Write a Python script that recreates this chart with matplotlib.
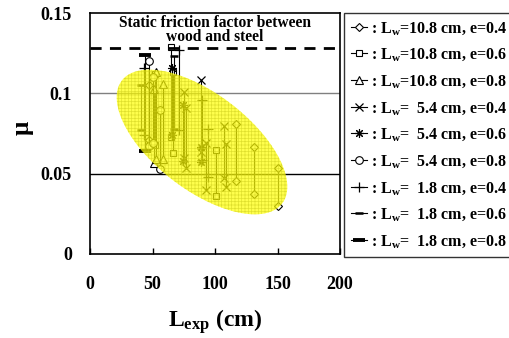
import numpy as np
import matplotlib
matplotlib.use("Agg")
import matplotlib.pyplot as plt
from matplotlib.patches import Polygon
from matplotlib.lines import Line2D

plt.rcParams['font.family'] = ['Liberation Serif', 'DejaVu Serif']
plt.rcParams['font.weight'] = 'bold'
plt.rcParams['mathtext.fontset'] = 'custom'
plt.rcParams['mathtext.rm'] = 'Liberation Serif:bold'
plt.rcParams['mathtext.it'] = 'Liberation Serif:bold'
plt.rcParams['mathtext.bf'] = 'Liberation Serif:bold'
plt.rcParams['hatch.linewidth'] = 0.5

# ---------------- data ----------------
series_labels = [
    r': L$_{\rm w}$=10.8 cm, e=0.4',
    r': L$_{\rm w}$=10.8 cm, e=0.6',
    r': L$_{\rm w}$=10.8 cm, e=0.8',
    r': L$_{\rm w}$=  5.4 cm, e=0.4',
    r': L$_{\rm w}$=  5.4 cm, e=0.6',
    r': L$_{\rm w}$=  5.4 cm, e=0.8',
    r': L$_{\rm w}$=  1.8 cm, e=0.4',
    r': L$_{\rm w}$=  1.8 cm, e=0.6',
    r': L$_{\rm w}$=  1.8 cm, e=0.8',
]

# L_exp positions and mu ranges (max, min) per series
lw108_e04_x = [47, 116.5, 131, 150]
lw108_e04_hi = [0.105, 0.081, 0.0666, 0.0533]
lw108_e04_lo = [0.071, 0.0454, 0.0371, 0.0299]

lw108_e06_x = [52, 65, 66.5, 101]
lw108_e06_hi = [0.112, 0.129, 0.113, 0.0647]
lw108_e06_lo = [0.068, 0.0726, 0.063, 0.036]

lw108_e08_x = [51, 53, 58.5]
lw108_e08_hi = [0.103, 0.113, 0.106]
lw108_e08_lo = [0.0566, 0.059, 0.059]

lw54_e04_x = [75, 77, 88.6, 93, 107.5, 109]
lw54_e04_hi = [0.1007, 0.0908, 0.108, 0.069, 0.0797, 0.0685]
lw54_e04_lo = [0.0597, 0.0535, 0.0637, 0.040, 0.0473, 0.0414]

lw54_e06_x = [65.5, 74, 89]
lw54_e06_hi = [0.1156, 0.093, 0.0665]
lw54_e06_lo = [0.074, 0.058, 0.057]

lw54_e08_x = [47.5, 50, 56]
lw54_e08_hi = [0.120, 0.110, 0.0896]
lw54_e08_lo = [0.067, 0.069, 0.053]

lw18_e04_x = [43.5, 71.5, 89.5, 94.5]
lw18_e04_hi = [0.116, 0.127, 0.0958, 0.078]
lw18_e04_lo = [0.074, 0.077, 0.0585, 0.048]

lw18_e06_x = [41, 67]
lw18_e06_hi = [0.105, 0.123]
lw18_e06_lo = [0.077, 0.078]

lw18_e08_x = [44]
lw18_e08_hi = [0.124]
lw18_e08_lo = [0.064]

static_friction = 0.128

x_ticks = [0, 50, 100, 150, 200]
y_ticks = [0, 0.05, 0.1, 0.15]
y_ticklabels = ['0', '0.05', '0.1', '0.15']

series = [
    (lw108_e04_x, lw108_e04_hi, lw108_e04_lo),
    (lw108_e06_x, lw108_e06_hi, lw108_e06_lo),
    (lw108_e08_x, lw108_e08_hi, lw108_e08_lo),
    (lw54_e04_x, lw54_e04_hi, lw54_e04_lo),
    (lw54_e06_x, lw54_e06_hi, lw54_e06_lo),
    (lw54_e08_x, lw54_e08_hi, lw54_e08_lo),
    (lw18_e04_x, lw18_e04_hi, lw18_e04_lo),
    (lw18_e06_x, lw18_e06_hi, lw18_e06_lo),
    (lw18_e08_x, lw18_e08_hi, lw18_e08_lo),
]

styles = [
    dict(marker='D', ms=4.2, mfc='white', mew=0.8),
    dict(marker='s', ms=5, mfc='white', mew=0.8),
    dict(marker='^', ms=5.5, mfc='white', mew=0.8),
    dict(marker='x', ms=6, mew=0.9),
    dict(marker=(8, 2, 0), ms=6.5, mew=0.8),
    dict(marker='o', ms=5.5, mfc='white', mew=0.8),
    dict(marker='+', ms=7, mew=0.9),
    dict(marker='_', ms=6, mew=1.8),
    dict(marker='_', ms=8, mew=2.8),
]

# ---------------- figure ----------------
W, H = 509, 338
fig = plt.figure(figsize=(W / 100, H / 100), dpi=100)
ax_l, ax_r, ax_t, ax_b = 90, 340, 13, 254
ax = fig.add_axes([ax_l / W, 1 - ax_b / H, (ax_r - ax_l) / W, (ax_b - ax_t) / H])
ax.set_xlim(0, 200)
ax.set_ylim(0, 0.15)

for (xs, his, los), st in zip(series, styles):
    for x, hi, lo in zip(xs, his, los):
        ax.plot([x, x], [lo, hi], color='black', lw=0.8, mec='black',
                zorder=3, **st)

ax.axhline(0.1, color='#808080', lw=1.0, zorder=1)
ax.axhline(0.05, color='black', lw=1.0, zorder=1)
ax.axhline(static_friction, color='black', lw=2.0, dashes=(4, 3), zorder=4)

# highlighted ellipse (defined in screen-like pixel space)
sx = (ax_r - ax_l) / 200.0
sy = (ax_b - ax_t) / 0.15
cx_px, cy_px = 202, 142
a_px, b_px, ang = 101, 48, np.deg2rad(-37.5)
t = np.linspace(0, 2 * np.pi, 300)
ex = a_px * np.cos(t) * np.cos(ang) - b_px * np.sin(t) * np.sin(ang)
ey = a_px * np.cos(t) * np.sin(ang) + b_px * np.sin(t) * np.cos(ang)
xd = (cx_px - ax_l) / sx + ex / sx
yd = (ax_b - cy_px) / sy + ey / sy
ell = Polygon(np.column_stack([xd, yd]), closed=True,
              facecolor=(1, 1, 0, 0.7), edgecolor=(0.8, 0.8, 0.1, 0.6),
              lw=0, hatch='+++++', zorder=5)
ax.add_patch(ell)

ax.text(0.5, 0.99, 'Static friction factor between\nwood and steel',
        transform=ax.transAxes, ha='center', va='top', fontsize=11.2,
        fontweight='bold', linespacing=0.8, zorder=6)

ax.set_xticks(x_ticks)
ax.set_xticklabels([str(v) for v in x_ticks], fontsize=13, fontweight='bold')
ax.set_yticks(y_ticks)
ax.set_yticklabels(y_ticklabels, fontsize=13, fontweight='bold')
ax.tick_params(axis='x', direction='in', length=4, width=1, pad=16)
ax.tick_params(axis='y', length=0, pad=13)
for s in ax.spines.values():
    s.set_linewidth(1.2)
    s.set_zorder(7)

fig.text(215 / W, 1 - 322 / H, r'L$_{\rm exp}$ (cm)', ha='center', va='center',
         fontsize=17, fontweight='bold')
fig.text(24 / W, 1 - 128 / H, r'$\mu$', ha='center', va='center',
         fontsize=18, rotation=90)

handles = [Line2D([0], [0], color='black', lw=0.8, mec='black', **st)
           for st in styles]
leg = fig.legend(handles, series_labels, loc='upper left',
                 bbox_to_anchor=(344 / W, 1 - 13 / H), borderaxespad=0,
                 fontsize=11.5, frameon=True, fancybox=False,
                 edgecolor='black', handlelength=1.0, handletextpad=0.25,
                 labelspacing=0.62, borderpad=0.42)
leg.get_frame().set_linewidth(1.0)

fig.savefig('out.png', dpi=100)
